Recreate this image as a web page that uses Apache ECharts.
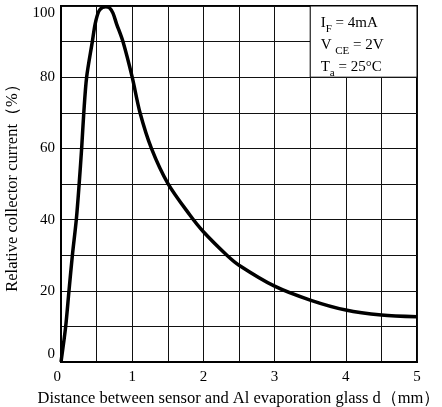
<!DOCTYPE html>
<html>
<head>
<meta charset="utf-8">
<script src="https://cdn.jsdelivr.net/npm/echarts@6/dist/echarts.min.js"></script>
<style>
html,body{margin:0;padding:0;background:#fff;}
#chart{width:442px;height:407px;}
</style>
</head>
<body>
<div id="chart"></div>
<script>
// Distance d (mm)
const distance = [0, 0.066, 0.112, 0.16, 0.215, 0.255, 0.29, 0.32, 0.36, 0.44, 0.48, 0.53, 0.58, 0.63, 0.68, 0.73, 0.78, 0.87, 1.0, 1.11, 1.27, 1.5, 1.81, 2.0, 2.33, 2.5, 3.0, 3.5, 4.0, 4.5, 5.0];
// Relative collector current (%)
const current = [0, 10, 20, 30, 40, 50, 60, 70, 80, 90, 95, 98.5, 99.6, 99.8, 99.5, 98, 95, 90, 80, 70, 60, 50.2, 41.3, 36.6, 30, 27.2, 21.3, 17.4, 14.6, 13.2, 12.7];
const xTickLabels = ['0', '1', '2', '3', '4', '5'];
const yTickLabels = ['0', '20', '40', '60', '80', '100'];
const conditionLines = [
  ['I', 'F', ' = 4mA'],
  ['V ', 'CE', ' = 2V'],
  ['T', 'a', ' = 25°C']
];
const conditionBox = [[3.5, 100], [5, 80]];

const serif = '"Liberation Serif", "Times New Roman", serif';
const chart = echarts.init(document.getElementById('chart'));

const richText = conditionLines.map(l => `{n|${l[0]}}{s|${l[1]}}{n|${l[2]}}`).join('\n');

chart.setOption({
  animation: false,
  backgroundColor: '#fff',
  grid: { left: 61, right: 25, top: 6, bottom: 45, show: true, borderColor: '#000', borderWidth: 2, containLabel: false, outerBoundsMode: 'none' },
  xAxis: {
    type: 'value', min: 0, max: 5, interval: 0.5,
    name: 'Distance between sensor and Al evaporation glass d（mm）',
    nameLocation: 'middle', nameGap: 27,
    nameTextStyle: { fontFamily: serif, fontSize: 16.5, color: '#000' },
    axisLine: { show: true, lineStyle: { color: '#000', width: 2 } },
    axisTick: { show: false },
    axisLabel: {
      fontFamily: serif, fontSize: 15, color: '#000', margin: 8,
      alignMinLabel: 'right',
      formatter: v => (Math.abs(v - Math.round(v)) < 1e-6 && xTickLabels.includes(String(Math.round(v)))) ? String(Math.round(v)) : ''
    },
    splitLine: { show: true, lineStyle: { color: '#111', width: 1 } }
  },
  yAxis: {
    type: 'value', min: 0, max: 100, interval: 10,
    name: 'Relative collector current（%）',
    nameLocation: 'middle', nameGap: 38,
    nameTextStyle: { fontFamily: serif, fontSize: 16.5, color: '#000' },
    axisLine: { show: true, lineStyle: { color: '#000', width: 2 } },
    axisTick: { show: false },
    axisLabel: {
      fontFamily: serif, fontSize: 15, color: '#000', margin: 6,
      verticalAlignMinLabel: 'bottom', verticalAlignMaxLabel: 'top',
      formatter: v => yTickLabels.includes(String(v)) ? String(v) : ''
    },
    splitLine: { show: true, lineStyle: { color: '#111', width: 1 } }
  },
  series: [{
    type: 'line',
    data: distance.map((d, i) => [d, current[i]]),
    smooth: 0.3,
    showSymbol: false,
    lineStyle: { color: '#000', width: 3.5 },
    markArea: {
      silent: true,
      itemStyle: { color: '#fff', borderColor: '#000', borderWidth: 1 },
      label: {
        show: true, position: 'insideTopLeft', distance: 0,
        padding: [7, 0, 0, 11],
        formatter: richText,
        rich: {
          n: { fontFamily: serif, fontSize: 15, color: '#000', lineHeight: 22 },
          s: { fontFamily: serif, fontSize: 11, color: '#000', lineHeight: 22, verticalAlign: 'bottom', padding: [0, 0, 0, 0] }
        }
      },
      data: [[{ coord: conditionBox[0] }, { coord: conditionBox[1] }]]
    }
  }]
});
</script>
</body>
</html>
